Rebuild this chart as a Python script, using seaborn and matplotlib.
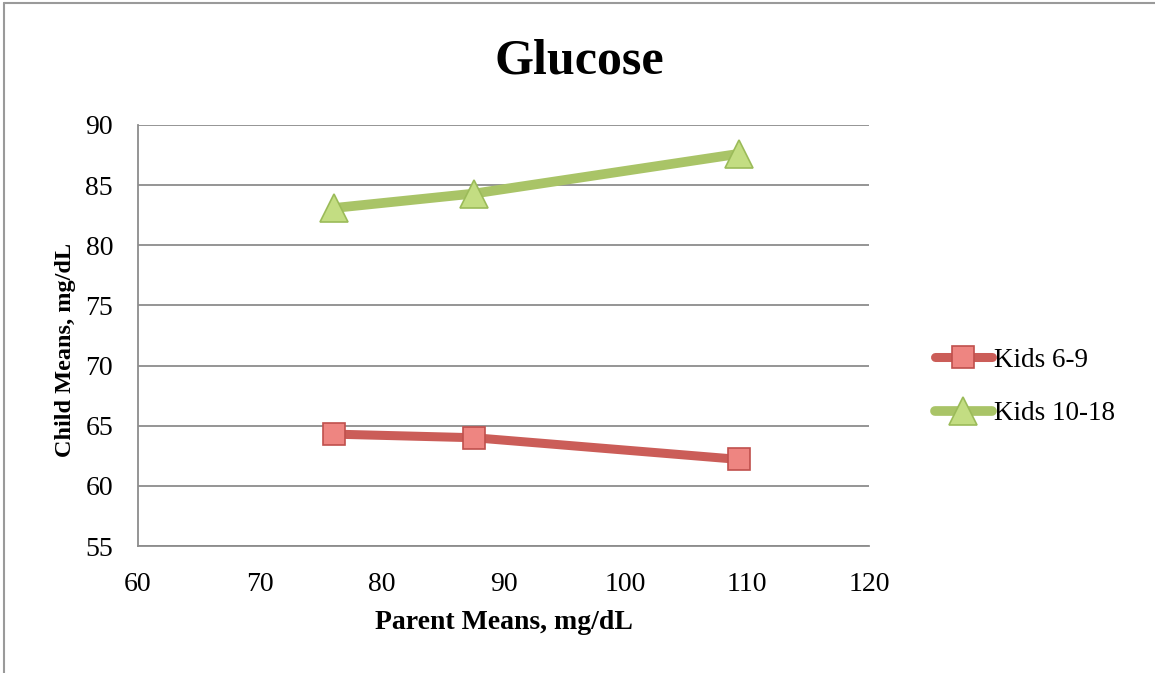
import seaborn as sns
import matplotlib.pyplot as plt
import pandas as pd
from matplotlib.lines import Line2D

# Data
parent_means = [76.1, 87.6, 109.3]
kids_6_9 = [64.3, 64.0, 62.2]
kids_10_18 = [83.1, 84.3, 87.6]
series_names = ['Kids 6-9', 'Kids 10-18']

df = pd.DataFrame({
    'parent': parent_means * 2,
    'child': kids_6_9 + kids_10_18,
    'group': [series_names[0]] * 3 + [series_names[1]] * 3,
})

sns.set_style('white')
plt.rcParams['font.family'] = ['Liberation Serif', 'DejaVu Serif']
plt.rcParams['text.color'] = 'black'
plt.rcParams['axes.labelcolor'] = 'black'
plt.rcParams['xtick.color'] = 'black'
plt.rcParams['ytick.color'] = 'black'

fig = plt.figure(figsize=(11.55, 6.73), dpi=100)
ax = fig.add_axes([0.1195, 0.1887, 0.6329, 0.6256])

styles = {
    'Kids 6-9': dict(color='#CB5D58', marker='s', markersize=16, linewidth=6.5,
                     markerfacecolor='#EE8581', markeredgecolor='#C0504D'),
    'Kids 10-18': dict(color='#A9C467', marker='^', markersize=20, linewidth=7,
                       markerfacecolor='#C3DD82', markeredgecolor='#9BBB59'),
}
for name in series_names:
    sub = df[df['group'] == name]
    sns.lineplot(data=sub, x='parent', y='child', ax=ax, label=name,
                 solid_capstyle='round', markeredgewidth=1.2,
                 **styles[name])

ax.set_xlim(60, 120)
ax.set_ylim(55, 90)
ax.set_xticks(range(60, 121, 10))
ax.set_yticks(range(55, 91, 5))
ax.yaxis.grid(True, color='#8C8C8C', linewidth=1.3)
ax.xaxis.grid(False)
ax.set_axisbelow(True)
for side in ['top', 'right']:
    ax.spines[side].set_visible(False)
for side in ['left', 'bottom']:
    ax.spines[side].set_color('#8C8C8C')
    ax.spines[side].set_linewidth(1.3)
ax.tick_params(axis='x', length=0, labelsize=20, pad=19)
ax.tick_params(axis='y', length=0, labelsize=20, pad=18)

ax.set_xlabel('Parent Means, mg/dL', fontsize=20, fontweight='bold', labelpad=9)
ax.set_ylabel('Child Means, mg/dL', fontsize=17.5, fontweight='bold', labelpad=7)
ax.yaxis.label.set_y(0.466)
fig.suptitle('Glucose', x=0.502, y=1 - 73 / 673, va='baseline',
             fontsize=36, fontweight='bold')

handles, labels = ax.get_legend_handles_labels()
ax.legend(handles, labels, loc='center left', bbox_to_anchor=(1.075, 0.378),
          borderaxespad=0, frameon=False, fontsize=19.5, handlelength=2.1,
          handletextpad=0.1, labelspacing=1.05)

# outer chart frame (left and top edges visible)
fig.add_artist(Line2D([0.0035, 0.0035], [0, 0.996], color='#9A9A9A', linewidth=1.5))
fig.add_artist(Line2D([0.0035, 1], [0.996, 0.996], color='#9A9A9A', linewidth=1.5))

fig.savefig('out.png', dpi=100)
